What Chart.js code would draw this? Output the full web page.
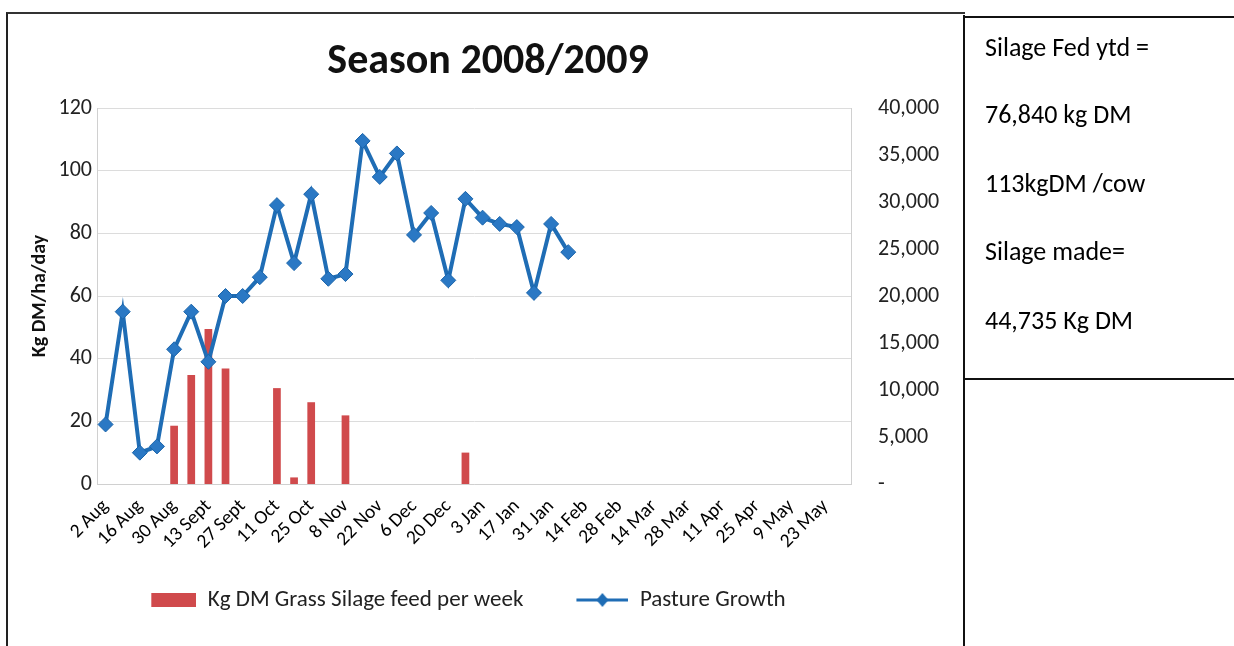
<!DOCTYPE html>
<html>
<head>
<meta charset="utf-8">
<script src="https://cdn.jsdelivr.net/npm/chart.js@4.4.1/dist/chart.umd.min.js"></script>
<style>
  html, body { margin: 0; padding: 0; background: #fff; }
  body { width: 1234px; height: 646px; position: relative; overflow: hidden; font-family: Carlito, Lato, "Liberation Sans", sans-serif; }
  #chartBox { position: absolute; left: 6px; top: 12px; width: 957px; height: 640px; border-left: 2px solid #222; border-top: 2px solid #333; }
  #wrap { position: absolute; left: 3px; top: 4px; width: 954px; height: 630px; }
  #sideBox { position: absolute; left: 964px; top: 16px; width: 270px; height: 360px; border-top: 2px solid #111; border-bottom: 2px solid #111; }
  #vline { position: absolute; left: 963px; top: 15px; width: 2px; height: 640px; background: #111; }
  #sideBox div { position: absolute; left: 21px; font-size: 26px; line-height: 31px; color: #000; }
</style>
</head>
<body>
<div id="chartBox"><div id="wrap"><canvas id="myChart"></canvas></div></div>
<div id="vline"></div>
<div id="sideBox">
  <div style="top:14px">Silage Fed ytd =</div>
  <div style="top:81px">76,840 kg DM</div>
  <div style="top:150px">113kgDM /cow</div>
  <div style="top:218px">Silage made=</div>
  <div style="top:287px">44,735 Kg DM</div>
</div>
<script>
// weekly categories, 2 Aug 2008 - 30 May 2009
var weeks = ["2 Aug", "9 Aug", "16 Aug", "23 Aug", "30 Aug", "6 Sept", "13 Sept", "20 Sept", "27 Sept",
  "4 Oct", "11 Oct", "18 Oct", "25 Oct", "1 Nov", "8 Nov", "15 Nov", "22 Nov", "29 Nov", "6 Dec",
  "13 Dec", "20 Dec", "27 Dec", "3 Jan", "10 Jan", "17 Jan", "24 Jan", "31 Jan", "7 Feb", "14 Feb",
  "21 Feb", "28 Feb", "7 Mar", "14 Mar", "21 Mar", "28 Mar", "4 Apr", "11 Apr", "18 Apr", "25 Apr",
  "2 May", "9 May", "16 May", "23 May", "30 May"];

// Kg DM grass silage fed per week (right axis)
var silageFed = [null, null, null, null, 6200, 11600, 16500, 12300, null,
  null, 10200, 700, 8700, null, 7300, null, null, null, null,
  null, null, 3340, null, null, null, null, null, null, null,
  null, null, null, null, null, null, null, null, null, null,
  null, null, null, null, null];

// pasture growth, kg DM/ha/day (left axis)
var pastureGrowth = [19, 55, 10, 12, 43, 55, 39, 60, 60,
  66, 89, 70.5, 92.5, 65.5, 67, 109.5, 98, 105.5, 79.5,
  86.5, 65, 91, 85, 83, 82, 61, 83, 74, null,
  null, null, null, null, null, null, null, null, null, null,
  null, null, null, null, null];

var leftTicks = [0, 20, 40, 60, 80, 100, 120];
var rightTicks = [0, 5000, 10000, 15000, 20000, 25000, 30000, 35000, 40000];

var font = "Carlito, Lato, 'Liberation Sans', sans-serif";
var red = "#d04a4c";
var blue = "#1f6db5";

// legend swatches (drawn on the right part of an 80px box)
function swatch(kind) {
  var c = document.createElement("canvas");
  c.width = 80; c.height = 16;
  var g = c.getContext("2d");
  if (kind == "bar") {
    g.fillStyle = red;
    g.fillRect(35, 1, 45, 14);
  } else {
    g.strokeStyle = blue; g.lineWidth = 3;
    g.beginPath(); g.moveTo(28, 8); g.lineTo(80, 8); g.stroke();
    g.fillStyle = blue;
    g.beginPath(); g.moveTo(54, 1); g.lineTo(60, 8); g.lineTo(54, 15); g.lineTo(48, 8); g.closePath(); g.fill();
  }
  return c;
}
var barSwatch = swatch("bar");
var lineSwatch = swatch("line");

// nudge the legend left, as in the original
var legendShift = {
  id: "legendShift",
  afterLayout: function (chart) {
    chart.legend.left -= 37;
    chart.legend.right -= 37;
  }
};

var ctx = document.getElementById('myChart').getContext('2d');
var chart = new Chart(ctx, {
  data: {
    labels: weeks,
    datasets: [
      {
        type: "line",
        label: "Pasture Growth",
        data: pastureGrowth,
        yAxisID: "y",
        borderColor: blue,
        backgroundColor: "#2a78c4",
        borderWidth: 4,
        pointStyle: "rectRot",
        pointRadius: 7.5,
        pointBorderColor: "#1a64aa",
        pointBorderWidth: 1,
        pointBackgroundColor: "#2a78c4",
        lineTension: 0,
        fill: false,
        order: 0
      },
      {
        type: "bar",
        label: "Kg DM Grass Silage feed per week",
        data: silageFed,
        yAxisID: "y1",
        backgroundColor: red,
        barPercentage: 0.45,
        categoryPercentage: 1,
        order: 1
      }
    ]
  },
  options: {
    responsive: true,
    maintainAspectRatio: false,
    animation: false,
    layout: { padding: { left: 0, right: 0, top: 0, bottom: 26.5 } },
    plugins: {
      title: {
        display: true,
        text: "Season 2008/2009",
        color: "#111",
        font: { family: font, size: 42, weight: "bold" },
        padding: { top: 18.8, bottom: 20.8 }
      },
      legend: {
        position: "bottom",
        reverse: true,
        labels: {
          color: "#222",
          font: { family: font, size: 23 },
          usePointStyle: true,
          pointStyleWidth: 80,
          padding: 25,
          generateLabels: function (ch) {
            return [
              { text: "Pasture Growth", pointStyle: lineSwatch, datasetIndex: 0, fontColor: "#222", lineWidth: 0, strokeStyle: "transparent", fillStyle: "transparent" },
              { text: "Kg DM Grass Silage feed per week", pointStyle: barSwatch, datasetIndex: 1, fontColor: "#222", lineWidth: 0, strokeStyle: "transparent", fillStyle: "transparent" }
            ];
          }
        }
      },
      tooltip: { enabled: false }
    },
    scales: {
      x: {
        offset: true,
        afterFit: function (axis) { axis.height = 79.5; },
        grid: { display: false, drawTicks: false },
        border: { color: "#d0d0d0" },
        ticks: {
          autoSkip: false,
          minRotation: 45,
          maxRotation: 45,
          padding: 11,
          color: "#000",
          font: { family: font, size: 19.5 },
          callback: function (v, i) { return i % 2 === 0 ? weeks[i] : null; }
        }
      },
      y: {
        position: "left",
        min: 0,
        max: 120,
        afterBuildTicks: function (axis) { axis.ticks = leftTicks.map(function (v) { return { value: v }; }); },
        afterFit: function (axis) { axis.width = 86; },
        grid: { color: "#dcdcdc", drawTicks: false },
        border: { color: "#d0d0d0" },
        ticks: { color: "#222", padding: 5, font: { family: font, size: 22 } },
        title: {
          display: true,
          text: "Kg DM/ha/day",
          color: "#111",
          font: { family: font, size: 20, weight: "bold" },
          padding: { top: 17, bottom: 0 }
        }
      },
      y1: {
        position: "right",
        min: 0,
        max: 40000,
        afterBuildTicks: function (axis) { axis.ticks = rightTicks.map(function (v) { return { value: v }; }); },
        afterFit: function (axis) { axis.width = 114; },
        grid: { display: false, drawTicks: false },
        border: { color: "#d0d0d0" },
        ticks: {
          color: "#222",
          padding: 27,
          font: { family: font, size: 22 },
          callback: function (v) { return v === 0 ? "-" : v.toLocaleString("en-US"); }
        }
      }
    }
  },
  plugins: [legendShift]
});
</script>
</body>
</html>
